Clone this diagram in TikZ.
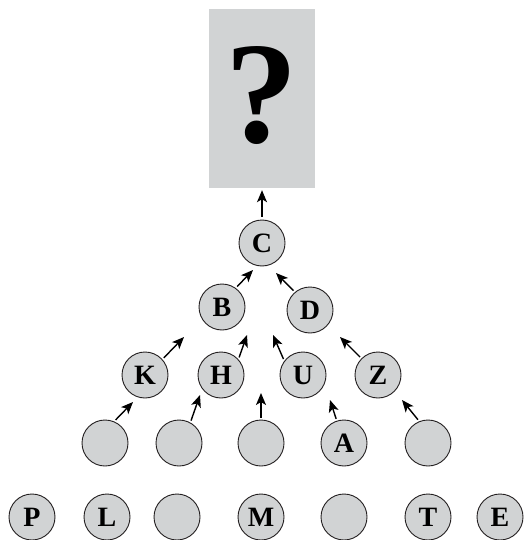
\documentclass[tikz,border=0pt]{standalone}
\usepackage{fontspec}
\setmainfont{Liberation Serif}
\usetikzlibrary{arrows.meta,positioning}
\definecolor{ballgray}{HTML}{D1D3D4}
\definecolor{inkline}{HTML}{231F20}
\tikzstyle{ball} = [circle, minimum size=46pt, inner sep=0pt, draw=inkline, line width=0.9pt, fill=ballgray, font=\fontsize{28}{28}\selectfont\bfseries]
\tikzstyle{qbox} = [rectangle, minimum width=106pt, minimum height=179pt, fill=ballgray, text depth=9pt, font=\fontsize{145}{145}\selectfont\bfseries]
\tikzstyle{arrow} = [line width=1.4pt, -{Stealth[length=12pt,width=10pt,inset=3pt]}, shorten <=2pt]

\begin{document}
\begin{tikzpicture}[node distance=68pt]
\useasboundingbox (0,0) rectangle (526pt,-540pt);
% the unknown on top
\node (q) [qbox] at (262pt,-98.5pt) {?};
\node (c) [ball] at (262pt,-243pt) {C};
\node (b) [ball, below of = c, xshift=-40pt, yshift=4pt] {B};
\node (d) [ball, below of = c, xshift=48pt, yshift=1pt] {D};
\node (k) [ball, below of = b, xshift=-77pt] {K};
\node (h) [ball, below of = b, xshift=-1pt] {H};
\node (u) [ball, below of = d, xshift=-7pt, yshift=3pt] {U};
\node (z) [ball, below of = d, xshift=68pt, yshift=3pt] {Z};
\node (n1) [ball, below of = k, xshift=-40pt] {};
\node (n2) [ball, below of = h, xshift=-42pt] {};
\node (n3) [ball, below of = h, xshift=40pt] {};
\node (a) [ball, below of = u, xshift=41pt] {A};
\node (n4) [ball, below of = z, xshift=50pt] {};
% bottom row
\node (p) [ball, below of = n1, xshift=-73pt, yshift=-6pt] {P};
\node (l) [ball, below of = n1, xshift=2pt, yshift=-6pt] {L};
\node (n5) [ball, below of = n2, xshift=-2pt, yshift=-6pt] {};
\node (m) [ball, below of = n3, yshift=-6pt] {M};
\node (n6) [ball, below of = a, yshift=-6pt] {};
\node (t) [ball, below of = n4, yshift=-6pt] {T};
\node (e) [ball, below of = n4, xshift=72pt, yshift=-6pt] {E};
% arrow tips
\coordinate (tb) at (253pt,-270pt);
\coordinate (td) at (276pt,-273pt);
\coordinate (tk) at (184pt,-337pt);
\coordinate (th) at (247pt,-335pt);
\coordinate (tu) at (273pt,-335pt);
\coordinate (tz) at (340pt,-337pt);
\coordinate (tn1) at (133pt,-402pt);
\coordinate (tn2) at (200pt,-395pt);
\coordinate (tn3) at (261pt,-393pt);
\coordinate (ta) at (330pt,-400pt);
\coordinate (tn4) at (402pt,-400pt);
\draw [arrow, shorten <=3pt, shorten >=2pt] (c) -- (q);
\draw [arrow] (b.54) -- (tb);
\draw [arrow] (d.130) -- (td);
\draw [arrow] (k.42) -- (tk);
\draw [arrow] (h.42) -- (th);
\draw [arrow] (u.143) -- (tu);
\draw [arrow] (z.135) -- (tz);
\draw [arrow] (n1.67) -- (tn1);
\draw [arrow] (n2.61) -- (tn2);
\draw [arrow] (n3.90) -- (tn3);
\draw [arrow] (a.108) -- (ta);
\draw [arrow] (n4.112) -- (tn4);
\end{tikzpicture}
\end{document}
